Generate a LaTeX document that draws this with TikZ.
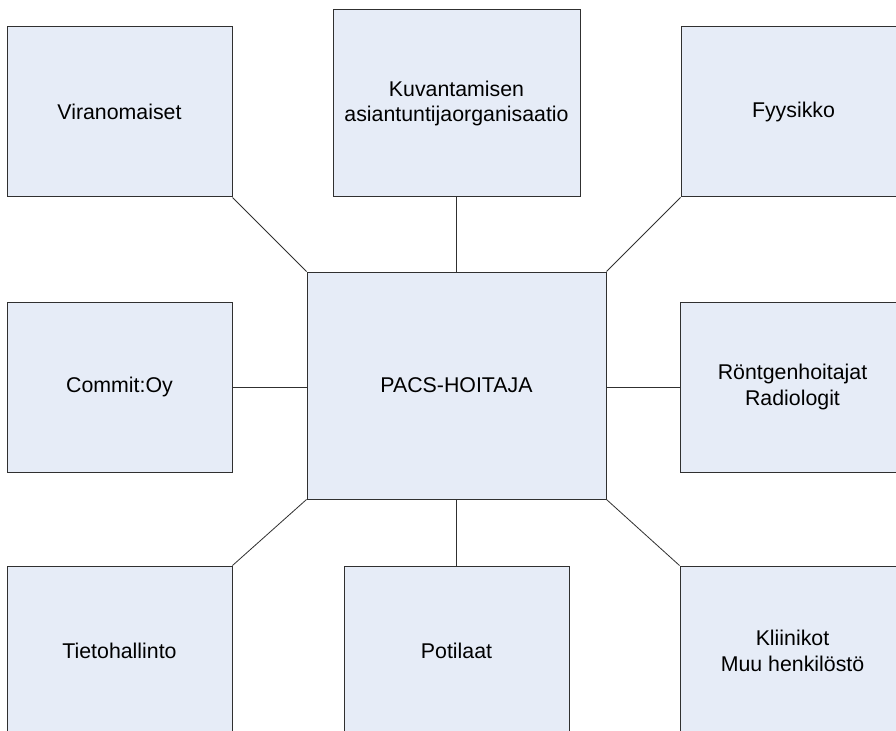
\documentclass[tikz,border=0pt]{standalone}
\usepackage{fontspec}
\setmainfont{Liberation Sans}
\definecolor{boxfill}{HTML}{E6ECF7}
\definecolor{boxline}{HTML}{303030}
\begin{document}
\begin{tikzpicture}[x=0.75pt,y=-0.75pt,
  box/.style={draw=boxline,fill=boxfill,line width=0.75pt,rectangle,inner sep=0pt,
    align=center,font=\fontsize{16}{19}\selectfont,
    minimum width=168.75pt,minimum height=127.5pt},
  link/.style={draw=boxline,line width=0.6pt}]
\clip (0,0) rectangle (896,731);
\fill[white] (0,0) rectangle (896,731);
\node[box] (vir) at (119.5,112) {Viranomaiset};
\node[box,minimum width=185.25pt,minimum height=140.25pt] (kuv) at (456.5,103.5) {Kuvantamisen\\asiantuntijaorganisaatio};
\node[box] (fyy) at (793.5,112) {Fyysikko};
\node[box,minimum width=224.25pt,minimum height=170.25pt] (pacs) at (456.5,385.5) {PACS-HOITAJA};
\node[box] (com) at (119.5,387) {Commit:Oy};
\node[box] (ron) at (792.5,387) {Röntgenhoitajat\\Radiologit};
\node[box] (tie) at (119.5,651) {Tietohallinto};
\node[box] (pot) at (456.5,651) {Potilaat};
\node[box] (kli) at (792.5,651) {Kliinikot\\Muu henkilöstö};
\draw[link] (vir.south east) -- (pacs.north west);
\draw[link] (kuv.south) -- (pacs.north);
\draw[link] (fyy.south west) -- (pacs.north east);
\draw[link] (com.east) -- (pacs.west |- com.east);
\draw[link] (ron.west) -- (pacs.east |- ron.west);
\draw[link] (tie.north east) -- (pacs.south west);
\draw[link] (pot.north) -- (pacs.south);
\draw[link] (kli.north west) -- (pacs.south east);
\end{tikzpicture}
\end{document}
